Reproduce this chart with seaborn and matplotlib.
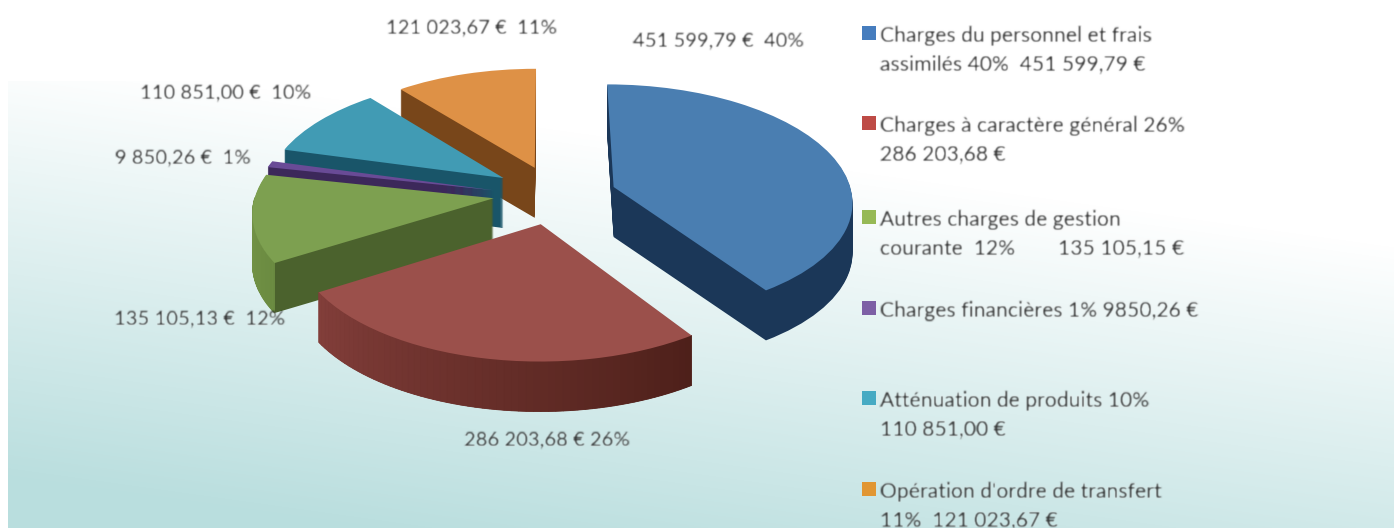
import numpy as np
import matplotlib
matplotlib.use("Agg")
import matplotlib.pyplot as plt
import matplotlib.transforms as mtransforms
from matplotlib.colors import LinearSegmentedColormap
import seaborn as sns

# valeurs
valeurs = [451599.79, 286203.68, 135105.13, 9850.26, 110851.00, 121023.67]
etiquettes = ["451 599,79 €  40%", "286 203,68 € 26%", "135 105,13 €  12%",
              "9 850,26 €  1%", "110 851,00 €  10%", "121 023,67 €  11%"]
legendes = ["Charges du personnel et frais\nassimilés 40%  451 599,79 €",
            "Charges à caractère général 26%\n286 203,68 €",
            "Autres charges de gestion\ncourante  12%        135 105,15 €",
            "Charges financières 1% 9850,26 €",
            "Atténuation de produits 10%\n110 851,00 €",
            "Opération d'ordre de transfert\n11%  121 023,67 €"]

# styles
eclat = [0.29, 0.19, 0.22, 0.22, 0.28, 0.32]
decalage = [(0, 0.045), (0.01, 0), (-0.01, 0.07), (-0.015, 0.05), (0.045, 0.057), (0.05, 0)]
c_dessus = ["#4a7eb1", "#9b504b", "#7da050", "#694b96", "#419bb4", "#de9146"]
c_flanc = ["#1b3758", "#5a2a26", "#4b622d", "#3c285a", "#195569", "#78461a"]
c_legende = ["#467dbe", "#be4b46", "#96b955", "#7d5fa5", "#46aac3", "#e19632"]
pos_etiquettes = [(718, 41), (547, 440), (200, 319), (183, 158), (225, 93), (471, 28)]
y_legende = [34, 124, 218, 309, 399, 490]
ordre = [5, 4, 3, 2, 0, 1]  # du fond vers l'avant

CX, CY = 548, 202
RX, RY = 240, 117
K = 0.11
HAUTEUR = 50


class Perspective(mtransforms.Transform):
    input_dims = 2
    output_dims = 2
    has_inverse = False

    def transform_non_affine(self, xy):
        xy = np.asarray(xy, dtype=float)
        w = 1 + K * xy[:, 1]
        return np.column_stack([xy[:, 0] / w, xy[:, 1] / w])


def vers_pixels(h=0):
    return Perspective() + mtransforms.Affine2D().scale(RX, -RY).translate(CX, CY + h)


def flou(image, dpi, sigma=0.8):
    # l'image de référence est floue
    pad = 4
    image = np.pad(image, ((pad, pad), (pad, pad), (0, 0)))
    x = np.arange(-pad, pad + 1)
    noyau = np.exp(-x ** 2 / (2 * sigma ** 2))
    noyau = noyau / noyau.sum()
    for axe in (0, 1):
        image = np.apply_along_axis(lambda v: np.convolve(v, noyau, mode="same"), axe, image)
    return image, -pad, -pad


sns.set_theme(style="white")
plt.rcParams["font.family"] = ["Lato", "DejaVu Sans"]

fig = plt.figure(figsize=(13.94, 5.28), dpi=100)
ax = fig.add_axes([0, 0, 1, 1])

# fond en dégradé
yy, xx = np.mgrid[81:528, 8:1394]
t = np.clip((yy - 50 - 0.14 * xx) / 430, 0, 1)
fond = LinearSegmentedColormap.from_list("fond", ["#ffffff", "#b9dede"])
ax.imshow(t, cmap=fond, vmin=0, vmax=1, extent=(8, 1394, 528, 81), aspect="auto", zorder=0)

rang = {i: n for n, i in enumerate(ordre)}


def tarte(couleurs):
    wedges, _ = ax.pie(valeurs, explode=eclat, colors=couleurs, startangle=90,
                       counterclock=False, wedgeprops={"linewidth": 0})
    for w, (du, dv) in zip(wedges, decalage):
        w.set_center((w.center[0] + du, w.center[1] + dv))
    return wedges


# flancs : la même tarte empilée
for h in range(HAUTEUR, 0, -1):
    for i, w in enumerate(tarte(c_flanc)):
        w.set_transform(vers_pixels(h) + ax.transData)
        w.set_zorder(10 + rang[i] * 1000 + HAUTEUR - h)

# dessus
wedges = tarte(c_dessus)
for i, w in enumerate(wedges):
    w.set_transform(vers_pixels() + ax.transData)
    w.set_zorder(10 + rang[i] * 1000 + 100)

# paroi extérieure dégradée du rouge et du vert
degrades = {1: ["#823e3a", "#4e201a"], 2: ["#78984a", "#6c8c42"]}
for i, couleurs in degrades.items():
    w = wedges[i]
    angles = np.radians(np.linspace(w.theta1, w.theta2, 61))
    teintes = sns.blend_palette(couleurs, 60)
    bord = np.column_stack([w.center[0] + w.r * np.cos(angles),
                            w.center[1] + w.r * np.sin(angles)])
    haut = vers_pixels(0).transform(bord)
    bas = vers_pixels(HAUTEUR).transform(bord)
    for j in range(60):
        if np.sin(angles[j] + 0.01) >= 0:
            continue
        ax.fill([haut[j, 0], haut[j + 1, 0], bas[j + 1, 0], bas[j, 0]],
                [haut[j, 1], haut[j + 1, 1], bas[j + 1, 1], bas[j, 1]],
                color=teintes[j], lw=0.6, zorder=10 + rang[i] * 1000 + 90)

# étiquettes
for txt, (x, y) in zip(etiquettes, pos_etiquettes):
    ax.text(x, y, txt, ha="center", va="center", fontsize=14.6, color="#2b2b2b",
            zorder=9000, agg_filter=flou)

# légende
for txt, y, c in zip(legendes, y_legende, c_legende):
    ax.scatter([869], [y - 1], marker="s", s=90, color=c, linewidths=0, zorder=9000)
    ax.text(880, y - 8, txt, ha="left", va="top", fontsize=15.2, color="#2b2b2b",
            linespacing=1.5, zorder=9000, agg_filter=flou)

ax.set_aspect("auto")
ax.set_xlim(0, 1394)
ax.set_ylim(528, 0)
ax.axis("off")

fig.savefig("out.png", dpi=100)
